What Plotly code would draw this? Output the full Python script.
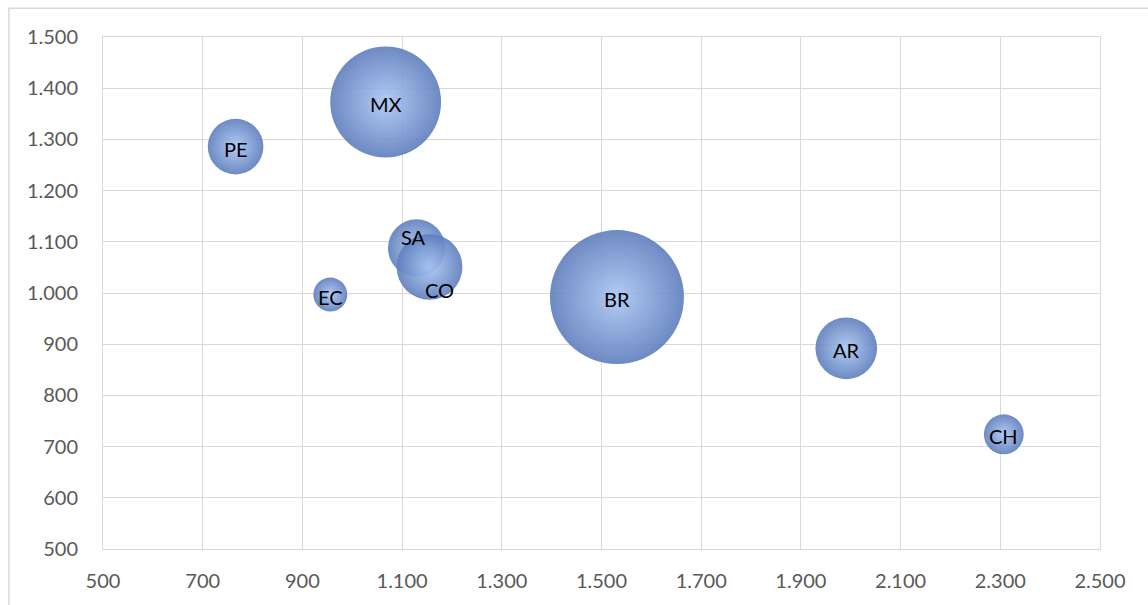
import plotly.graph_objects as go

labels = ["PE", "MX", "SA", "CO", "EC", "BR", "AR", "CH"]
x_vals = [766, 1067, 1129, 1155, 956, 1531, 1991, 2307]
y_vals = [1286, 1373, 1088, 1051, 997, 992, 892, 724]
sizes = [35, 139, 37, 49, 13, 203, 43, 18]

x_ticks = [500, 700, 900, 1100, 1300, 1500, 1700, 1900, 2100, 2300, 2500]
y_ticks = [500, 600, 700, 800, 900, 1000, 1100, 1200, 1300, 1400, 1500]

# label offsets in pixels (style only)
label_shift_x = {"SA": -3, "CO": 10}
label_shift_y = {"SA": 13, "CO": -21}

fig = go.Figure()
fig.add_trace(go.Scatter(
    x=x_vals, y=y_vals, mode="markers",
    marker=dict(
        size=sizes, sizemode="area", sizeref=1 / 44.2,
        color="#5D7DBC",
        gradient=dict(type="radial", color="#A9C6F2"),
        line=dict(width=0),
        opacity=0.9,
    ),
    hoverinfo="skip",
    showlegend=False,
))

for lab, xv, yv in zip(labels, x_vals, y_vals):
    fig.add_annotation(
        x=xv, y=yv, text=lab, showarrow=False,
        xshift=label_shift_x.get(lab, 0), yshift=label_shift_y.get(lab, 0) - 2,
        font=dict(family="Lato", size=20, color="#000000"),
    )

grid_col = "#D9D9D9"
fig.update_xaxes(
    range=[x_ticks[0], x_ticks[-1]], tickvals=x_ticks, tickformat=",d",
    showgrid=True, gridcolor=grid_col, gridwidth=1,
    showline=True, linecolor=grid_col, linewidth=1, mirror=True,
    zeroline=False, ticks="", ticklabelstandoff=14,
    tickfont=dict(family="Lato", size=20, color="#595959"),
)
fig.update_yaxes(
    range=[y_ticks[0], y_ticks[-1]], tickvals=y_ticks, tickformat=",d",
    showgrid=True, gridcolor=grid_col, gridwidth=1,
    showline=True, linecolor=grid_col, linewidth=1, mirror=True,
    zeroline=False, ticks="", ticklabelstandoff=20,
    tickfont=dict(family="Lato", size=20, color="#595959"),
)

# outer chart frame (partially cut off at right/bottom)
fig.add_shape(type="rect", xref="paper", yref="paper",
              x0=-0.0943, x1=1.2, y0=-0.3, y1=1.0563,
              line=dict(color=grid_col, width=1.5), layer="below")

fig.update_layout(
    width=1148, height=605,
    margin=dict(l=103, r=48, t=37, b=56),
    paper_bgcolor="white", plot_bgcolor="white",
    separators=",.",
    showlegend=False,
)

fig.write_html("out.html")
